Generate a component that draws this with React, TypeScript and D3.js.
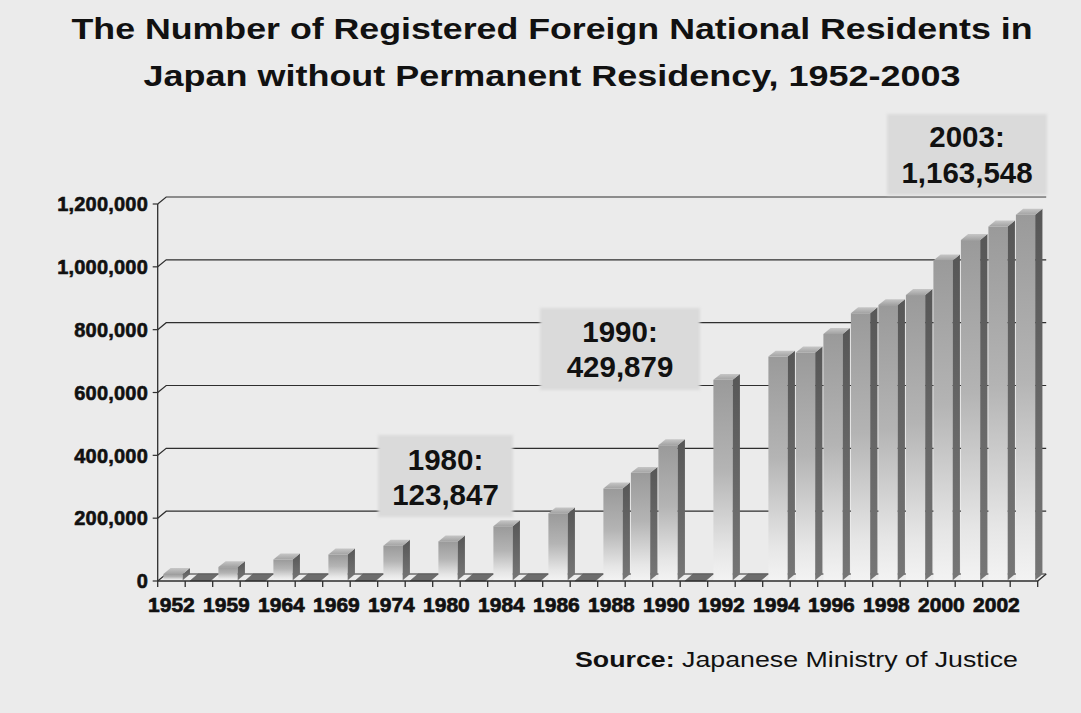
import React from "react";
import * as d3 from "d3";

// ---- data ----
const slotLabels = [
  "1952", "", "1959", "", "1964", "", "1969", "", "1974", "", "1980", "",
  "1984", "", "1986", "", "1988", "", "1990", "", "1992", "", "1994", "",
  "1996", "", "1998", "", "2000", "", "2002", "",
];
const residents = [
  20000, 0, 42000, 0, 66000, 0, 82000, 0, 110000, 0, 123847, 0,
  172000, 0, 213000, 0, 292000, 342000, 429879, 0, 638000, 0, 712000, 725000,
  784000, 850000, 876000, 908000, 1018000, 1083000, 1126000, 1163548,
];
const yTicks = [0, 200000, 400000, 600000, 800000, 1000000, 1200000];
const titleLines = [
  "The Number of Registered Foreign National Residents in",
  "Japan without Permanent Residency, 1952-2003",
];
const annotationYears = ["1980", "1990", "2003"];
const annotationValues = [123847, 429879, 1163548];

// ---- layout ----
const W = 1081;
const H = 713;
const X0 = 157.7;
const X1 = 1037.7;
const Y0 = 581;
const Y1 = 204;
const DX = 8.5;
const DY = 7;
const Z0 = 0.1;
const Z1 = 0.95;
const BAR_W = 19.3;
const BAR_OFF = 4.85;
const annotationBoxes = [
  { x: 378, y: 435, w: 135, h: 82, cx: 445.5, b1: 470, b2: 505 },
  { x: 540, y: 308, w: 160, h: 82, cx: 620, b1: 342, b2: 377 },
  { x: 887, y: 114, w: 160, h: 81, cx: 967, b1: 147, b2: 183 },
];
const FONT = "'Liberation Sans', Arial, Helvetica, sans-serif";

export default function App() {
  const x = d3
    .scaleBand<number>()
    .domain(d3.range(slotLabels.length))
    .range([X0, X1])
    .padding(0);
  const y = d3.scaleLinear().domain([0, 1200000]).range([Y0, Y1]);
  const fmt = d3.format(",");
  const bw = x.bandwidth();

  const dxs = DX * (Z1 - Z0);
  const dys = DY * (Z1 - Z0);

  return (
    <svg
      width={W}
      height={H}
      style={{ position: "absolute", left: 0, top: 0, display: "block" }}
    >
      <defs>
        <linearGradient id="front" x1="0" y1="0" x2="0" y2="1">
          <stop offset="0" stopColor="#9a9a9a" />
          <stop offset="0.45" stopColor="#b4b4b4" />
          <stop offset="0.85" stopColor="#e6e6e6" />
          <stop offset="1" stopColor="#f3f3f3" />
        </linearGradient>
        <linearGradient id="side" x1="0" y1="0" x2="0" y2="1">
          <stop offset="0" stopColor="#575757" />
          <stop offset="1" stopColor="#767676" />
        </linearGradient>
        <linearGradient id="topf" x1="0" y1="0" x2="0" y2="1">
          <stop offset="0" stopColor="#c6c6c6" />
          <stop offset="1" stopColor="#a2a2a2" />
        </linearGradient>
        <filter id="soft" x="-10%" y="-10%" width="120%" height="120%">
          <feGaussianBlur stdDeviation="1.5" />
        </filter>
      </defs>
      <rect x={0} y={0} width={W} height={H} fill="#ebebeb" />

      {/* title */}
      {titleLines.map((t, i) => (
        <text
          key={i}
          x={552}
          y={39 + i * 47}
          textAnchor="middle"
          fontFamily={FONT}
          fontWeight="bold"
          fontSize={30}
          fill="#111"
          textLength={i === 0 ? 961 : 817}
          lengthAdjust="spacingAndGlyphs"
        >
          {t}
        </text>
      ))}

      {/* gridlines */}
      {yTicks.map((t) => {
        const yy = y(t);
        return (
          <g key={t} stroke="#2e2e2e" strokeWidth={1.2} fill="none">
            <line x1={X0 - 5} x2={X0} y1={yy} y2={yy} />
            <polyline
              points={`${X0},${yy} ${X0 + DX},${yy - DY} ${X1 + DX},${yy - DY}`}
            />
          </g>
        );
      })}

      {/* annotation boxes (behind bars) */}
      {annotationBoxes.map((b, i) => (
        <rect
          key={i}
          x={b.x}
          y={b.y}
          width={b.w}
          height={b.h}
          fill="#dadada"
          filter="url(#soft)"
        />
      ))}

      {/* bars */}
      {residents.map((v, i) => {
        const xf = (x(i) as number) + BAR_OFF + DX * Z0;
        const yb = Y0 - DY * Z0;
        const yt = y(v) - DY * Z0;
        if (v === 0) {
          return (
            <polygon
              key={i}
              points={`${xf - 1},${Y0} ${xf + dxs},${Y0 - DY} ${xf + BAR_W + dxs + 1},${Y0 - DY} ${xf + BAR_W},${Y0}`}
              fill="#6c6c6c"
              stroke="#555"
              strokeWidth={0.6}
            />
          );
        }
        return (
          <g key={i}>
            <rect x={xf} y={yt} width={BAR_W} height={yb - yt} fill="url(#front)" />
            <polygon
              points={`${xf + BAR_W},${yt} ${xf + BAR_W + dxs},${yt - dys} ${xf + BAR_W + dxs},${yb - dys} ${xf + BAR_W},${yb}`}
              fill="url(#side)"
            />
            <polygon
              points={`${xf},${yt} ${xf + dxs},${yt - dys} ${xf + BAR_W + dxs},${yt - dys} ${xf + BAR_W},${yt}`}
              fill="url(#topf)"
            />
          </g>
        );
      })}

      {/* axes */}
      <g stroke="#2e2e2e" strokeWidth={1.3} fill="none">
        <line x1={X0} x2={X0} y1={Y1} y2={Y0} />
        <polyline points={`${X0},${Y0} ${X1},${Y0} ${X1 + DX},${Y0 - DY}`} />
        {d3.range(slotLabels.length + 1).map((i) => {
          const xx = X0 + i * bw;
          return <line key={i} x1={xx} x2={xx} y1={Y0} y2={Y0 + 6} />;
        })}
      </g>

      {/* y labels */}
      {yTicks.map((t) => (
        <text
          key={t}
          x={148}
          y={y(t)}
          dy="0.36em"
          textAnchor="end"
          fontFamily={FONT}
          fontWeight="bold"
          fontSize={20}
          letterSpacing={0.2}
          fill="#111"
          stroke="#111"
          strokeWidth={0.6}
        >
          {fmt(t)}
        </text>
      ))}

      {/* x labels */}
      {slotLabels.map((l, i) =>
        l ? (
          <text
            key={i}
            x={(x(i) as number) + bw / 2}
            y={612}
            textAnchor="middle"
            fontFamily={FONT}
            fontWeight="bold"
            fontSize={21}
            fill="#111"
            stroke="#111"
            strokeWidth={0.7}
          >
            {l}
          </text>
        ) : null
      )}

      {/* annotation text */}
      {annotationBoxes.map((b, i) => (
        <g key={i} fontFamily={FONT} fontWeight="bold" fontSize={29.5} fill="#111" textAnchor="middle">
          <text x={b.cx} y={b.b1}>{annotationYears[i] + ":"}</text>
          <text x={b.cx} y={b.b2}>{fmt(annotationValues[i])}</text>
        </g>
      ))}

      {/* source */}
      <text
        x={575}
        y={667}
        fontFamily={FONT}
        fontSize={22}
        fill="#111"
        textLength={443}
        lengthAdjust="spacingAndGlyphs"
      >
        <tspan fontWeight="bold">Source:</tspan> Japanese Ministry of Justice
      </text>
    </svg>
  );
}
